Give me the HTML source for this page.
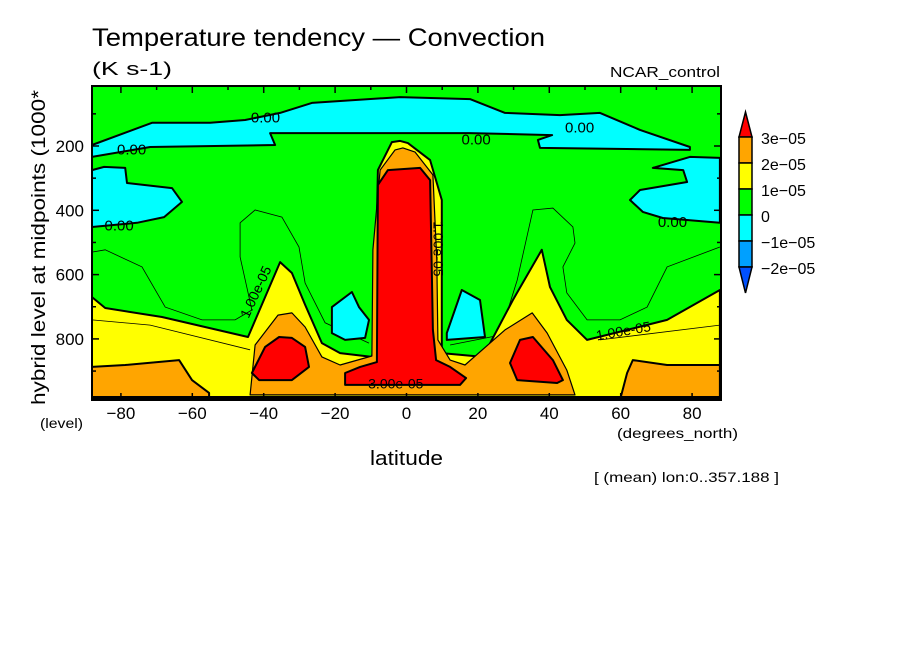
<!DOCTYPE html>
<html><head><meta charset="utf-8">
<style>
html,body{margin:0;padding:0;background:#fff;}
svg{display:block;font-family:"Liberation Sans",sans-serif;}
</style></head>
<body>
<svg id="chart" width="904" height="654" viewBox="0 0 904 654" xmlns="http://www.w3.org/2000/svg">
<rect width="904" height="654" fill="#fff"/>
<text x="92" y="46" font-size="25" textLength="453" lengthAdjust="spacingAndGlyphs">Temperature tendency — Convection</text>
<text x="92" y="75" font-size="18" textLength="80" lengthAdjust="spacingAndGlyphs">(K s-1)</text>
<text x="610" y="77" font-size="15" textLength="110" lengthAdjust="spacingAndGlyphs">NCAR_control</text>
<g id="plot"></g>
<g id="axes"></g>
<text transform="translate(45,405) rotate(-90)" font-size="19" textLength="315" lengthAdjust="spacingAndGlyphs">hybrid level at midpoints (1000*</text>
<text x="40" y="428" font-size="14" textLength="43" lengthAdjust="spacingAndGlyphs">(level)</text>
<text x="617" y="438" font-size="14" textLength="121" lengthAdjust="spacingAndGlyphs">(degrees_north)</text>
<text x="370" y="465" font-size="20" textLength="73" lengthAdjust="spacingAndGlyphs">latitude</text>
<text x="594" y="482" font-size="14" textLength="185" lengthAdjust="spacingAndGlyphs">[ (mean) lon:0..357.188 ]</text>
<g id="legend"></g>
</svg>
<script>
// ---- data (lat in degrees, level in hybrid*1000) ----
const xTicks = [-80,-60,-40,-20,0,20,40,60,80];
const yTicks = [200,400,600,800];
const legendLabels = ["3e-05","2e-05","1e-05","0","-1e-05","-2e-05"];
const cyanTop = [[-88.1,197],[-71.3,128],[-55,128],[-45.2,119],[-35.4,97],[-26.5,66],[-1.8,48],[17.8,54],[27.6,97],[43,104],[54.2,97],[65.4,150],[79.4,203],[79.4,212],[37.4,206],[36.8,181],[40.8,166],[17.8,160],[-38.2,160],[-36.8,197],[-71.8,203],[-88.1,234]];
const cyanLeft = [[-88.1,275],[-84.7,265],[-78.8,268],[-78.3,315],[-65.7,331],[-62.9,374],[-67.9,421],[-75.5,439],[-88.1,452]];
const cyanRight = [[87.8,237],[79.4,234],[69,268],[77.5,275],[78.6,312],[65.4,337],[62.6,368],[66.2,405],[71.8,424],[87.8,439]];
const cyanSmallL = [[-20.9,701],[-15.3,654],[-13.3,701],[-10.5,741],[-11.6,797],[-17.2,803],[-20.9,782]];
const cyanSmallR = [[11.3,782],[15.5,648],[20.6,679],[22,794],[11.3,803]];
const yellow = [[-88.1,670],[-84.4,704],[-68.5,732],[-44.4,794],[-35.4,561],[-32.1,595],[-28.4,694],[-23.7,813],[-18.6,844],[-9.7,856],[-8.8,803],[-8.5,523],[-8,275],[-4.1,188],[-1.8,184],[0.4,191],[6.6,244],[9.9,368],[9.9,803],[9.9,844],[21.4,856],[29.8,679],[37.9,523],[40.2,639],[44.9,741],[50.6,803],[73,741],[87.8,648],[87.8,990],[-88.1,990]];
const orangeMid = [[-43.8,974],[-42.4,819],[-36,726],[-32.1,719],[-28.4,763],[-23.7,856],[-18.6,881],[-9.7,853],[-9.4,523],[-7.4,275],[-3.2,212],[-1,206],[2.4,219],[7.4,290],[8.5,555],[8.8,803],[12.2,866],[16.4,881],[27.6,772],[35.2,719],[39.4,782],[44.9,897],[47.2,974]];
const orangeLeft = [[-88.1,887],[-78.8,881],[-63.7,866],[-60.1,928],[-55.3,968],[-55.3,990],[-88.1,990]];
const orangeRight = [[59.8,990],[61.8,906],[63.4,866],[73,881],[87.8,881],[87.8,990]];
const redColumn = [[-17.2,943],[-17.2,906],[-13,887],[-8.3,872],[-8,321],[-5.2,275],[3.8,268],[6.6,306],[7.4,772],[8.3,866],[12.2,887],[16.7,922],[15,943]];
const redLeft = [[-43.3,906],[-39.6,825],[-35.7,794],[-32.1,797],[-28.4,825],[-27.3,887],[-32.1,928],[-41.3,928]];
const redRight = [[29,875],[31.8,803],[35.4,794],[41,866],[43.8,928],[42.2,937],[31,928]];
const thinLeft = [[-88.1,530],[-84.4,523],[-74.1,576],[-67.6,701],[-57.3,741],[-48,741],[-43.3,710],[-46.6,545],[-46.6,439],[-42.4,399],[-34.9,421],[-30.1,514],[-28.4,626],[-22.8,750],[-10.5,813]];
const thinRight = [[12.2,819],[26.2,788],[31,617],[35.4,399],[41,393],[46.6,452],[47.2,502],[43.8,576],[44.9,657],[50.6,741],[59.8,741],[67.4,701],[73,576],[87.8,514]];
const thinYL = [[-88.1,741],[-71.8,757],[-43.8,834]];
const thinYR = [[54.2,803],[87.8,757]];
const zeroLabels = [[-39.5,114],[-77,214],[-80.5,450],[19.5,183],[48.5,145],[74.5,440]];

// ---- axis functions ----
const X0=92, X1=721, Y0=86, Y1=400;
const LATMIN=-88.1, LATMAX=88.1, LEVTOP=13.4, LEVBOT=990;
function x(lat){return X0+(lat-LATMIN)/(LATMAX-LATMIN)*(X1-X0);}
function y(lev){return Y0+(lev-LEVTOP)/(LEVBOT-LEVTOP)*(Y1-Y0);}
const NS="http://www.w3.org/2000/svg";
function mk(tag, parent, attrs){const e=document.createElementNS(NS,tag);for(const k in attrs)e.setAttribute(k,attrs[k]);parent.appendChild(e);return e;}
function pts(a){return a.map(p=>x(p[0]).toFixed(1)+","+y(p[1]).toFixed(1)).join(" ");}

const plot=document.getElementById("plot");
const bg=mk("rect",plot,{x:X0,y:Y0,width:X1-X0,height:Y1-Y0,fill:"#00ff00"});



function poly(arr,fill,sw,name){
  const p=mk("polygon",plot,{points:pts(arr),fill:fill,stroke:"#000","stroke-width":sw,"stroke-linejoin":"round"});
  
  
}
function line(arr,sw,name){
  const p=mk("polyline",plot,{points:pts(arr),fill:"none",stroke:"#000","stroke-width":sw});
  
  
}
poly(cyanTop,"#00ffff",2,"cyan-region-top");
poly(cyanLeft,"#00ffff",2,"cyan-region-left");
poly(cyanRight,"#00ffff",2,"cyan-region-right");
line(thinLeft,0.8,"contour-line-left");
line(thinRight,0.8,"contour-line-right");
poly(yellow,"#ffff00",2,"yellow-region");
line(thinYL,0.8,"contour-line-yellow-left");
line(thinYR,0.8,"contour-line-yellow-right");
poly(cyanSmallL,"#00ffff",2,"cyan-region-small-left");
poly(cyanSmallR,"#00ffff",2,"cyan-region-small-right");
poly(orangeMid,"#ffa500",1.2,"orange-region-mid");
poly(orangeLeft,"#ffa500",2,"orange-region-left");
poly(orangeRight,"#ffa500",2,"orange-region-right");
poly(redColumn,"#ff0000",2,"red-region-column");
poly(redLeft,"#ff0000",2,"red-region-left");
poly(redRight,"#ff0000",2,"red-region-right");

zeroLabels.forEach(function(p){
  const t=mk("text",plot,{x:x(p[0]),y:y(p[1]),"font-size":15,"text-anchor":"middle","dominant-baseline":"middle"});
  t.textContent="0.00";
  
  
});
const l1=mk("text",plot,{transform:"translate("+x(-41)+","+y(660)+") rotate(-65)","font-size":14,"text-anchor":"middle"});
l1.textContent="1.00e-05";


const l2=mk("text",plot,{transform:"translate("+x(61)+","+y(790)+") rotate(-10)","font-size":14,"text-anchor":"middle"});
l2.textContent="1.00e-05";


const l3=mk("text",plot,{transform:"translate("+x(7.5)+","+y(520)+") rotate(90)","font-size":14,"text-anchor":"middle"});
l3.textContent="1.00e-05";


const l4=mk("text",plot,{x:x(-3),y:y(955),"font-size":14,"text-anchor":"middle"});
l4.textContent="3.00e-05";



// bottom strip
const bs=mk("rect",plot,{x:X0,y:Y1-4,width:X1-X0,height:4,fill:"#000"});



// axes
const axes=document.getElementById("axes");
const fr=mk("rect",axes,{x:X0,y:Y0,width:X1-X0,height:Y1-Y0,fill:"none",stroke:"#000","stroke-width":2});


for(let lat=-80;lat<=80;lat+=10){
  const len=(lat%20===0)?7:4;
  mk("line",axes,{x1:x(lat),x2:x(lat),y1:Y0,y2:Y0+len,stroke:"#000","stroke-width":1.5});
  mk("line",axes,{x1:x(lat),x2:x(lat),y1:Y1,y2:Y1-len,stroke:"#000","stroke-width":1.5});
}
for(let lev=100;lev<=900;lev+=100){
  const len=(lev%200===0)?7:4;
  mk("line",axes,{x1:X0,x2:X0+len,y1:y(lev),y2:y(lev),stroke:"#000","stroke-width":1.5});
  mk("line",axes,{x1:X1,x2:X1-len,y1:y(lev),y2:y(lev),stroke:"#000","stroke-width":1.5});
}
xTicks.forEach(function(v){
  const t=mk("text",axes,{x:x(v),y:419,"font-size":17,"text-anchor":"middle"});
  t.textContent=(v<0?"\u2212"+(-v):String(v));
  
  
});
yTicks.forEach(function(v){
  const t=mk("text",axes,{x:84,y:y(v)+6,"font-size":17,"text-anchor":"end"});
  t.textContent=String(v);
  
  
});

// colorbar
const lg=document.getElementById("legend");
const LX=739, LW=13, LTOP=137, BH=26;
const boxColors=["#ffa500","#ffff00","#00ff00","#00ffff","#00a0ff"];
const tri1=mk("polygon",lg,{points:(LX+LW/2)+",112 "+(LX+LW)+","+LTOP+" "+LX+","+LTOP,fill:"#ff0000",stroke:"#000","stroke-width":1.5});


boxColors.forEach(function(c,i){
  const r=mk("rect",lg,{x:LX,y:LTOP+i*BH,width:LW,height:BH,fill:c,stroke:"#000","stroke-width":1.5});
  
  
});
const tri2=mk("polygon",lg,{points:LX+","+(LTOP+5*BH)+" "+(LX+LW)+","+(LTOP+5*BH)+" "+(LX+LW/2)+",293",fill:"#0050ff",stroke:"#000","stroke-width":1.5});


legendLabels.forEach(function(s,i){
  const t=mk("text",lg,{x:761,y:LTOP+i*BH+7,"font-size":16});
  t.textContent=s.replace(/-/g,"\u2212");
  
  
});
</script>
</body></html>
